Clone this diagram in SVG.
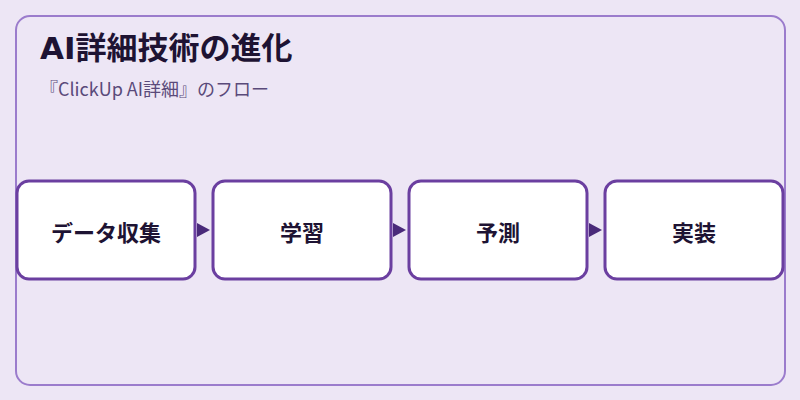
<svg xmlns="http://www.w3.org/2000/svg" width="800" height="400" viewBox="0 0 800 400">
<style>
.frame{fill:#ede6f5;stroke:#9b7ccc;stroke-width:2}
.box{fill:#ffffff;stroke:#6b3fa0;stroke-width:3}
.lbl{font-family:"Noto Sans CJK JP","Noto Sans",sans-serif;font-size:22px;font-weight:bold;fill:#1e1333;text-anchor:middle;dominant-baseline:central}
.title{font-family:"DejaVu Sans","Noto Sans CJK JP",sans-serif;font-size:31px;font-weight:bold;fill:#1e1333}
.sub{font-family:"Noto Sans CJK JP","Noto Sans",sans-serif;font-size:18px;fill:#5a4a7a}
.arr{fill:#4a2a7a}
</style>
<rect x="0" y="0" width="800" height="400" fill="#ede6f5"/>
<rect class="frame" x="16" y="16" width="769" height="369" rx="14"/>
<text class="title" x="40" y="59">AI詳細技術の進化</text>
<text class="sub" x="40" y="96">『ClickUp AI詳細』のフロー</text>
<g id="connectors">
<polygon class="arr" points="197,223 210,230 197,237"/>
<polygon class="arr" points="393,223 406,230 393,237"/>
<polygon class="arr" points="589,223 602,230 589,237"/>
</g>
<g id="n1"><rect class="box" x="17" y="181" width="178" height="98" rx="12"/><text class="lbl" x="106" y="231">データ収集</text></g>
<g id="n2"><rect class="box" x="213" y="181" width="178" height="98" rx="12"/><text class="lbl" x="302" y="231">学習</text></g>
<g id="n3"><rect class="box" x="409" y="181" width="178" height="98" rx="12"/><text class="lbl" x="498" y="231">予測</text></g>
<g id="n4"><rect class="box" x="605" y="181" width="178" height="98" rx="12"/><text class="lbl" x="694" y="231">実装</text></g>
</svg>
